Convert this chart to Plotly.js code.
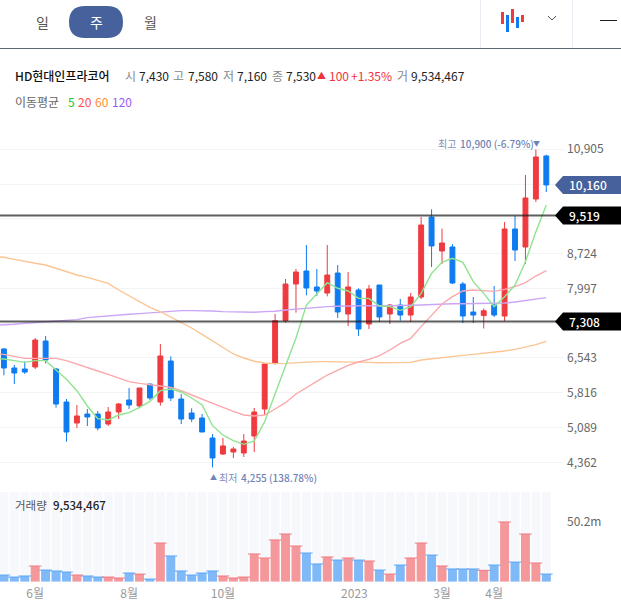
<!DOCTYPE html>
<html><head><meta charset="utf-8">
<script src="https://cdn.plot.ly/plotly-3.0.1.min.js"></script>
<style>html,body{margin:0;padding:0;background:#fff}#c{width:621px;height:614px}</style>
</head><body><div id="c"></div>
<script>
const opens=[6731,6334,6313,6355,6898,6313,5623,5184,5372,5372,5163,5414,5665,5540,5999,5623,6480,5686,5393,5289,4871,4536,4578,4557,4913,5477,6431,7323,8089,8361,8027,7901,8319,7462,7964,7253,8068,7462,7650,7441,7818,9490,8779,8863,8089,7504,7430,7650,7420,9239,8863,9866,10765];
const highs=[6752,6396,6473,6961,7003,6334,5686,5560,5477,5435,5519,5602,5916,5916,5999,6835,6578,5790,5491,5372,4954,4871,4683,4954,5498,6431,7462,8194,8403,8904,8403,8904,8486,8340,7999,8068,8068,7671,7776,7901,9490,9650,9246,8925,8131,7818,7580,8047,9385,9511,10367,10900,10792];
const lows=[6180,5999,6208,6313,6431,5505,4794,5080,5121,5031,5121,5268,5477,5491,5665,5546,5644,5163,5205,4996,4255,4515,4453,4474,4578,5351,6410,7281,7490,7852,7838,7831,7379,7211,7002,7149,7295,7253,7323,7295,7776,8445,8507,8089,7274,7274,7160,7400,7316,8570,8507,9803,10012];
const closes=[6334,6229,6250,6919,6501,5581,4996,5331,5310,5080,5414,5581,5560,5916,5707,6585,5707,5268,5268,4996,4453,4704,4641,4808,5414,6417,7323,8089,8340,8006,7943,8277,7504,8027,7149,7985,7400,7650,7441,7818,9322,8884,8946,8110,7420,7441,7530,7441,9239,8800,9887,10744,10160];
const ma5=[6529,6522,6487,6452,6487,6487,6292,6097,5860,5540,5275,5247,5351,5400,5512,5637,5860,5895,5832,5707,5560,5128,4933,4815,4738,4808,5212,5790,6397,6961,7650,7894,8117,8000,7943,7790,7790,7630,7616,7539,7616,7894,8312,8542,8626,8542,8138,7894,7616,7825,8068,8556,9183,9740];
const ma20=[6633,6619,6578,6536,6536,6536,6536,6487,6410,6341,6271,6201,6118,6048,6013,5978,5958,5930,5860,5770,5679,5595,5512,5428,5351,5330,5351,5477,5609,5790,5930,6055,6187,6292,6389,6459,6515,6592,6710,6849,6954,7198,7441,7671,7825,7943,7964,7950,7936,7978,8033,8117,8256,8368];
const ma60=[8661,8647,8605,8557,8522,8487,8417,8348,8278,8229,8173,8104,7964,7846,7735,7602,7512,7400,7289,7170,7038,6899,6752,6627,6543,6474,6439,6425,6431,6445,6459,6466,6466,6466,6459,6452,6452,6445,6445,6445,6452,6501,6529,6557,6578,6598,6619,6640,6661,6689,6724,6766,6821,6891];
const ma120=[7226,7233,7247,7268,7282,7303,7317,7330,7344,7386,7407,7428,7442,7456,7470,7484,7505,7526,7533,7533,7533,7526,7512,7505,7498,7498,7512,7519,7546,7567,7588,7602,7616,7623,7630,7637,7637,7630,7630,7637,7644,7650,7664,7671,7678,7678,7678,7678,7685,7692,7713,7741,7769,7804];
const volumes=[5.6,3.9,4.8,13.2,9.8,9.0,8.1,5.6,4.8,3.9,3.9,3.1,7.3,6.4,2.2,32.5,21.6,9.0,5.6,7.3,9.0,4.8,3.1,3.9,23.3,19.9,35.1,40.1,30,24.1,14.9,20.8,18.2,19.9,18.2,17.4,9.8,6.4,14,19.9,32.5,22.4,13.2,10.7,10.7,10.7,9.53,14,50.2,16.5,40.1,15.7,6.4];
const priceTicks=[10905,10178,9451,8724,7997,7270,6543,5816,5089,4362];
const priceLabels=['10,905','','','8,724','7,997','','6,543','5,816','5,089','4,362'];
const monthTicks=[3,12,21,33.6,42,47];
const monthLabels=['6월','8월','10월','2023','3월','4월'];
const levelLines=[9519,7308];
const levelText=['9,519','7,308'];
const lastPrice=10160, lastText='10,160';
const volMax=75.4;

const W=621,H=614;
const idx=opens.map((_,i)=>i);
const maIdx=[-1].concat(idx);
const RED='#ef3a3f',BLUE='#0f7bf0',FONT='"Noto Sans CJK KR","Noto Sans",sans-serif';
const px=x=>x/W, py=y=>1-y/H;
const up=idx.map(i=>closes[i]>=opens[i]);

const ma=(y,c)=>({type:'scatter',mode:'lines',x:maIdx,y:y,xaxis:'x',yaxis:'y',line:{color:c,width:1.4},hoverinfo:'skip'});
const traces=[
 {type:'bar',x:idx,y:idx.map(()=>volMax),xaxis:'x',yaxis:'y2',width:0.86,marker:{color:'#f6f8fc'},hoverinfo:'skip'},
 {type:'bar',x:idx,y:volumes,xaxis:'x',yaxis:'y2',width:0.86,marker:{color:up.map(u=>u?'#f4989c':'#7fb9f8')}},
 {type:'scatter',mode:'markers',x:idx,y:volumes,xaxis:'x',yaxis:'y2',hoverinfo:'skip',
  marker:{symbol:'line-ew',size:9,color:up.map(u=>u?'#ee7a80':'#5da7f4'),line:{width:1,color:up.map(u=>u?'#ee7a80':'#5da7f4')}}},
 {type:'candlestick',x:idx,open:opens,high:highs,low:lows,close:closes,xaxis:'x',yaxis:'y',whiskerwidth:0,
  increasing:{line:{color:RED,width:1},fillcolor:RED},decreasing:{line:{color:BLUE,width:1},fillcolor:BLUE}},
 ma(ma120,'#cba6f7'),ma(ma60,'#fbc592'),ma(ma20,'#fba8ac'),ma(ma5,'#8fe38f')
];

const txt=(x,y,text,color,size,extra)=>Object.assign({xref:'paper',yref:'paper',x:px(x),y:py(y),text:text,showarrow:false,xanchor:'left',yanchor:'middle',
  font:{family:FONT,size:size||12,color:color||'#222'},borderpad:0,borderwidth:0},extra||{});
const rect=(x0,y0,x1,y1,c)=>({type:'rect',xref:'paper',yref:'paper',x0:px(x0),x1:px(x1),y0:py(y0),y1:py(y1),fillcolor:c,line:{width:0},layer:'above'});
const hline=(x0,x1,y,c,w)=>({type:'line',xref:'paper',yref:'paper',x0:px(x0),x1:px(x1),y0:py(y),y1:py(y),line:{color:c,width:w||1},layer:'above'});
const vline=(x,y0,y1,c)=>({type:'line',xref:'paper',yref:'paper',x0:px(x),x1:px(x),y0:py(y0),y1:py(y1),line:{color:c,width:1},layer:'above'});
const tag=(v,c)=>({type:'path',xref:'paper',yref:'y',xsizemode:'pixel',ysizemode:'pixel',xanchor:px(555),yanchor:v,
  path:'M 0 0 L 8 9 L 66 9 L 66 -9 L 8 -9 Z',fillcolor:c,line:{width:0},layer:'above'});
const pill=()=>{const a=69,b=123,t=6,u=38,r=16;
  return {type:'path',xref:'paper',yref:'paper',fillcolor:'#46619b',line:{width:0},layer:'above',
  path:`M ${px(a+r)} ${py(t)} L ${px(b-r)} ${py(t)} Q ${px(b)} ${py(t)} ${px(b)} ${py((t+u)/2)} Q ${px(b)} ${py(u)} ${px(b-r)} ${py(u)} L ${px(a+r)} ${py(u)} Q ${px(a)} ${py(u)} ${px(a)} ${py((t+u)/2)} Q ${px(a)} ${py(t)} ${px(a+r)} ${py(t)} Z`};};

const shapes=[
 hline(0,621,48.5,'#5f6675',1), vline(480.5,0,48,'#e8edf3'), vline(572.5,0,48,'#e8edf3'), pill(),
 rect(501,12,504,24,RED),rect(506,15,509,32,BLUE),rect(511,9,514,23,RED),rect(516,17,519,28,BLUE),rect(521,15,524,22,RED),
 {type:'path',xref:'paper',yref:'paper',line:{color:'#555',width:1},layer:'above',path:`M ${px(548)} ${py(16)} L ${px(552)} ${py(20)} L ${px(556)} ${py(16)}`},
 hline(600,617,20.5,'#222',1)
];
levelLines.forEach(v=>{
 shapes.push({type:'line',xref:'paper',yref:'y',x0:0,x1:px(556),y0:v,y1:v,line:{color:'rgba(30,30,30,0.72)',width:2},layer:'above'});
 shapes.push(tag(v,'#000'));
});
shapes.push(tag(lastPrice,'#46619b'));

const tagTxt=(v,t,w)=>({xref:'paper',yref:'y',x:px(567),y:v,text:t,showarrow:false,xanchor:'left',yanchor:'middle',font:{family:FONT,size:12,color:'#fff',weight:w}});
const G='#888',N='#222',R='#f0323c',SL='#7183b6';
const annotations=[
 txt(42,22,'일','#555',14,{xanchor:'center'}),txt(96,22,'주','#fff',14,{xanchor:'center'}),txt(150,22,'월','#555',14,{xanchor:'center'}),
 txt(15,75,'HD현대인프라코어','#111',12,{font:{family:FONT,size:12,color:'#111',weight:500}}),
 txt(125,75,'시',G),txt(138.5,75,'7,430',N),txt(173,75,'고',G),txt(187.5,75,'7,580',N),txt(223,75,'저',G),txt(236.5,75,'7,160',N),
 txt(271.5,75,'종',G),txt(285.5,75,'7,530',N),txt(317,75,'▲',R,9),txt(328.5,75,'100',R),txt(351,75,'+1.35%',R),txt(397,75,'거',G),txt(411,75,'9,534,467',N),
 txt(15,102,'이동평균','#666'),txt(68,102,'5','#22c322'),txt(78,102,'20','#ff4d4d'),txt(94.5,102,'60','#ff8c2e'),txt(111.5,102,'120','#9a5cf5'),
 txt(438,143,'최고','#7f8fbc',10),txt(460,143,'10,900 (-6.79%)',SL,10,{font:{family:FONT,size:10,color:SL,weight:500}}),txt(533,142.5,'▼',SL,7),
 txt(210,477,'▲',SL,7),txt(219,477,'최저','#7f8fbc',10),txt(241,477,'4,255 (138.78%)',SL,10,{font:{family:FONT,size:10,color:SL,weight:500}}),
 txt(15,505,'거래량','#555',11.5),txt(53,505,'9,534,467','#222',11.5,{font:{family:FONT,size:11.5,color:'#222',weight:500}}),
 tagTxt(lastPrice,lastText,500)
];
levelLines.forEach((v,i)=>annotations.push(tagTxt(v,levelText[i],500)));

const layout={
 width:W,height:H,margin:{l:0,r:0,t:0,b:0},paper_bgcolor:'#fff',plot_bgcolor:'rgba(0,0,0,0)',showlegend:false,
 font:{family:FONT,size:12,color:'#666'},barmode:'overlay',boxgap:0.33,hovermode:false,
 xaxis:{domain:[0,px(563)],range:[-0.374,53.6],anchor:'y2',tickmode:'array',tickvals:monthTicks,ticktext:monthLabels,ticks:'',showgrid:false,zeroline:false,showline:false,
   rangeslider:{visible:false},tickfont:{size:12,color:'#999',family:FONT},ticklabelstandoff:3,fixedrange:true},
 yaxis:{domain:[py(490),py(130)],range:[3784,11308],anchor:'x',side:'right',tickmode:'array',tickvals:priceTicks,ticktext:priceLabels,ticks:'',
   gridcolor:'#f2f3f5',gridwidth:1,zeroline:false,showline:false,tickfont:{size:12,color:'#666',family:FONT},ticklabelstandoff:3,fixedrange:true},
 yaxis2:{domain:[py(581.7),py(492)],range:[0,volMax],anchor:'x',side:'right',tickmode:'array',tickvals:[50.2],ticktext:['50.2m'],ticks:'',
   showgrid:false,zeroline:false,showline:false,tickfont:{size:12,color:'#666',family:FONT},ticklabelstandoff:3,fixedrange:true},
 shapes:shapes,annotations:annotations
};
Plotly.newPlot('c',traces,layout,{displayModeBar:false,staticPlot:true});
</script></body></html>
